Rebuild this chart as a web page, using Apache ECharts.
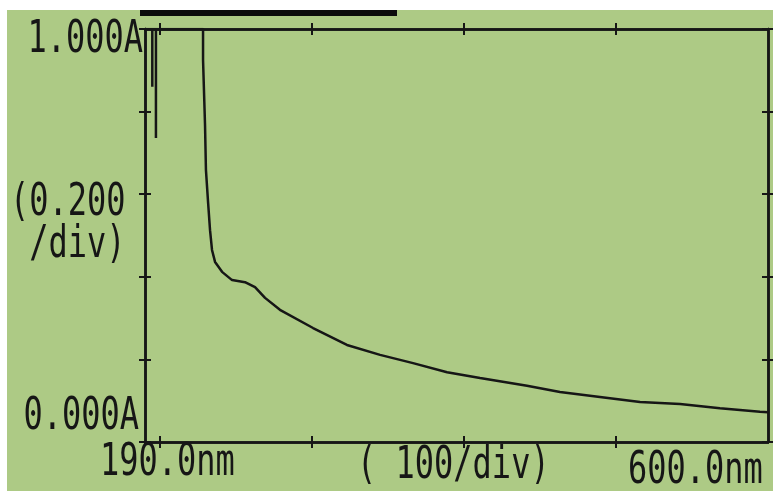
<!DOCTYPE html>
<html>
<head>
<meta charset="utf-8">
<script src="https://cdn.jsdelivr.net/npm/echarts@6/dist/echarts.min.js"></script>
<style>
html,body{margin:0;padding:0;background:#ffffff;}
#chart{width:773px;height:491px;}
</style>
</head>
<body>
<div id="chart"></div>
<script>
// Wavelength (nm) and absorbance (A)
const wavelength = [190, 194.8, 194.8, 194.8, 197.2, 197.2, 197.2, 228.2, 228.2, 229.5, 230.1, 231.5, 232.8, 234.1, 236.1, 240.7, 247.3, 255.8, 262.4, 269.0, 278.8, 300.6, 322.9, 344.7, 366.4, 388.8, 410.5, 441.4, 463.1, 489.4, 515.8, 542.1, 568.4, 594.7, 600.0];
const absorbance = [1.0, 1.0, 0.860, 1.0, 1.0, 0.736, 1.0, 1.0, 0.925, 0.768, 0.659, 0.581, 0.513, 0.465, 0.436, 0.412, 0.392, 0.387, 0.375, 0.349, 0.320, 0.276, 0.235, 0.211, 0.191, 0.169, 0.155, 0.136, 0.121, 0.109, 0.097, 0.092, 0.082, 0.073, 0.072];
const xTicks = [200, 300, 400, 500];
const yTickLabels = ["1.000A", "(0.200", " /div)", "0.000A"];
const xTickLabels = ["190.0nm", "( 100/div)", "600.0nm"];

const ink = '#161616';
const font = '32px "DejaVu Sans Mono", "Liberation Mono", monospace';
const sy = 1.36;

function frameX(pos, inside) {
  return {
    type: 'value', min: 190, max: 600, position: pos, gridIndex: 0,
    axisLine: {show: true, onZero: false, lineStyle: {color: ink, width: 2.5}},
    axisTick: {show: true, inside: inside, length: 6, customValues: xTicks, lineStyle: {color: ink, width: 2}},
    axisLabel: {show: false}, splitLine: {show: false}
  };
}
function frameY(pos, inside) {
  return {
    type: 'value', min: 0, max: 1, interval: 0.2, position: pos, gridIndex: 0,
    axisLine: {show: true, onZero: false, lineStyle: {color: ink, width: 2.5}},
    axisTick: {show: true, inside: inside, length: 6, lineStyle: {color: ink, width: 2}},
    axisLabel: {show: false}, splitLine: {show: false}
  };
}
function label(text, x, y, align) {
  return {
    type: 'text', x: x, y: y, scaleX: 1, scaleY: sy, z: 10,
    style: {text: text, font: font, fill: ink, align: align || 'left', verticalAlign: 'middle'}
  };
}

const chart = echarts.init(document.getElementById('chart'), null, {renderer: 'canvas'});
chart.setOption({
  backgroundColor: '#ffffff',
  animation: false,
  grid: {left: 145, right: 5, top: 29, bottom: 49, containLabel: false},
  xAxis: [frameX('bottom', false), frameX('bottom', true), frameX('top', false), frameX('top', true)],
  yAxis: [frameY('left', false), frameY('left', true), frameY('right', false), frameY('right', true)],
  graphic: [
    {type: 'rect', z: -10, silent: true, shape: {x: 7, y: 10, width: 766, height: 481}, style: {fill: '#adca85'}},
    {type: 'rect', z: -9, silent: true, shape: {x: 140, y: 10, width: 257, height: 6}, style: {fill: '#0c0c0c'}},
    label(yTickLabels[0], 143, 41, 'right'),
    label(yTickLabels[1], 10, 204),
    label(yTickLabels[2], 10, 246),
    label(yTickLabels[3], 139, 418, 'right'),
    label(xTickLabels[0], 100, 464),
    label(xTickLabels[1], 357, 467),
    label(xTickLabels[2], 628, 472)
  ],
  series: [{
    type: 'line', xAxisIndex: 0, yAxisIndex: 0,
    data: wavelength.map((w, i) => [w, absorbance[i]]),
    showSymbol: false, smooth: false,
    lineStyle: {color: ink, width: 2.5},
    clip: true
  }]
});
</script>
</body>
</html>
